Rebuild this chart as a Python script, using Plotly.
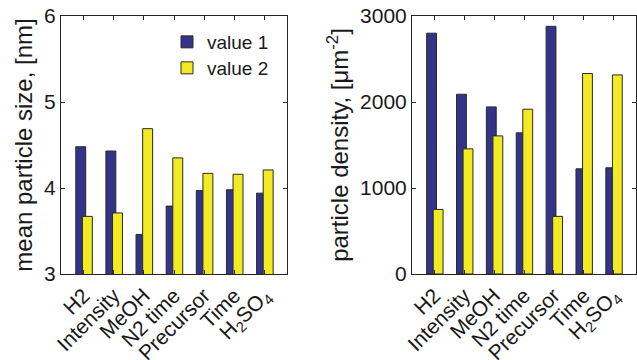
import plotly.graph_objects as go

categories = ["H2", "Intensity", "MeOH", "N2 time", "Precursor", "Time", "H<sub>2</sub>SO<sub>4</sub>"]
positions = [1, 2, 3, 4, 5, 6, 7]
size_value1 = [4.48, 4.43, 3.46, 3.79, 3.97, 3.98, 3.94]
size_value2 = [3.67, 3.71, 4.69, 4.35, 4.17, 4.16, 4.21]
density_value1 = [2800, 2090, 1943, 1641, 2880, 1223, 1235]
density_value2 = [751, 1455, 1606, 1916, 670, 2331, 2315]
series_names = ["value 1", "value 2"]
size_ticks = [3, 4, 5, 6]
density_ticks = [0, 1000, 2000, 3000]

BLUE = "#34338a"
YELLOW = "#f2ea22"
EDGE = "#2a2a2a"
AX = "#262626"
TXT = "#1a1a1a"
FONT = "Liberation Sans, Arial, Helvetica, sans-serif"

W, H = 637, 360


def px(x):
    return x / W


def py(y):
    return 1 - y / H


fig = go.Figure()


def add_bars(vals1, vals2, xa, ya, show):
    fig.add_trace(go.Bar(x=positions, y=vals1, name=series_names[0],
                         marker=dict(color=BLUE, line=dict(color=EDGE, width=1)),
                         width=0.33, offset=-0.26, xaxis=xa, yaxis=ya,
                         showlegend=show, legend="legend"))
    fig.add_trace(go.Bar(x=positions, y=vals2, name=series_names[1],
                         marker=dict(color=YELLOW, line=dict(color=EDGE, width=1)),
                         width=0.33, offset=-0.04, xaxis=xa, yaxis=ya,
                         showlegend=show, legend="legend2"))


add_bars(size_value1, size_value2, "x", "y", True)
add_bars(density_value1, density_value2, "x2", "y2", False)

TICKSIZE = 21
xcommon = dict(range=[0.25, 7.75], tickvals=positions, ticktext=categories, tickangle=-45,
               ticks="inside", ticklen=4, tickcolor=AX, showline=True, linecolor=AX, linewidth=1,
               mirror="ticks", showgrid=False, zeroline=False, automargin=False,
               ticklabeloverflow="allow",
               tickfont=dict(size=TICKSIZE, color=TXT, family=FONT))
ycommon = dict(ticks="inside", ticklen=4, tickcolor=AX, showline=True, linecolor=AX, linewidth=1,
               mirror="ticks", showgrid=False, zeroline=False, automargin=False,
               ticklabeloverflow="allow",
               tickfont=dict(size=TICKSIZE, color=TXT, family=FONT))

legcommon = dict(xanchor="left", yanchor="middle", bgcolor="rgba(0,0,0,0)",
                 font=dict(size=19, family=FONT, color=TXT), itemwidth=30)

fig.update_layout(
    width=W, height=H, margin=dict(l=0, r=0, t=0, b=0),
    paper_bgcolor="white", plot_bgcolor="white", barmode="overlay",
    font=dict(family=FONT, color=TXT),
    xaxis=dict(domain=[px(61), px(287)], anchor="y", **xcommon),
    yaxis=dict(domain=[py(274), py(16)], anchor="x", range=[3, 6], tickvals=size_ticks,
               title=dict(text="mean particle size, [nm]", font=dict(size=24, family=FONT), standoff=4),
               **ycommon),
    xaxis2=dict(domain=[px(412), px(636)], anchor="y2", **xcommon),
    yaxis2=dict(domain=[py(274), py(16)], anchor="x2", range=[0, 3000], tickvals=density_ticks,
                title=dict(text="particle density, [μm<sup>-2</sup>]", font=dict(size=24, family=FONT), standoff=4),
                **ycommon),
    legend=dict(x=px(167), y=py(42), **legcommon),
    legend2=dict(x=px(167), y=py(68), **legcommon),
)

fig.write_html("out.html", config={"displayModeBar": False},
               post_script="document.body.style.margin='0px';")
